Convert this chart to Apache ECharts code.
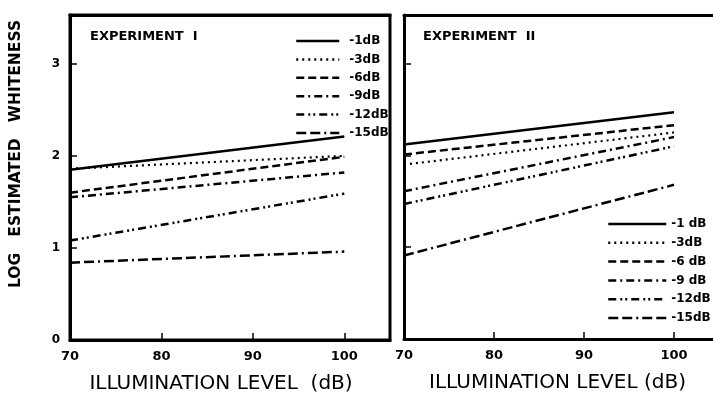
<!DOCTYPE html>
<html>
<head>
<meta charset="utf-8">
<script src="https://cdn.jsdelivr.net/npm/echarts@6/dist/echarts.min.js"></script>
<style>html,body{margin:0;padding:0;background:#fff;}#c{width:713px;height:403px;}</style>
</head>
<body>
<div id="c"></div>
<script>
// ---- data ----
const xLevels = [70, 100];
const xTicks = [70, 80, 90, 100];
const yTicks = [0, 1, 2, 3];
const names1 = ['-1dB', '-3dB', '-6dB', '-9dB', '-12dB', '-15dB'];
const names2 = ['-1 dB', '-3dB', '-6 dB', '-9 dB', '-12dB', '-15dB'];
// Experiment I (log estimated whiteness at 70 dB and 100 dB)
const exp1_1dB = [1.85, 2.21];
const exp1_3dB = [1.86, 2.00];
const exp1_6dB = [1.60, 1.99];
const exp1_9dB = [1.55, 1.82];
const exp1_12dB = [1.08, 1.59];
const exp1_15dB = [0.84, 0.96];
// Experiment II
const exp2_1dB = [2.12, 2.47];
const exp2_3dB = [1.90, 2.25];
const exp2_6dB = [2.01, 2.33];
const exp2_9dB = [1.61, 2.20];
const exp2_12dB = [1.47, 2.10];
const exp2_15dB = [0.91, 1.68];

const exp1 = [exp1_1dB, exp1_3dB, exp1_6dB, exp1_9dB, exp1_12dB, exp1_15dB];
const exp2 = [exp2_1dB, exp2_3dB, exp2_6dB, exp2_9dB, exp2_12dB, exp2_15dB];

// ---- styles ----
const lineStyles = [
  { type: 'solid', width: 2.6 },
  { type: [2, 4], width: 2.2 },
  { type: [8, 4], width: 2.5 },
  { type: [8, 4, 2, 4], width: 2.5 },
  { type: [8, 4, 2, 3, 2, 4], width: 2.5 },
  { type: [10, 4, 10, 4, 2, 4], width: 2.5 }
];
const FONT = 'DejaVu Sans';

function makeSeries(names, vals, idx) {
  return names.map((n, i) => ({
    name: n,
    type: 'line',
    xAxisIndex: idx * 2,
    yAxisIndex: idx,
    symbol: 'none',
    silent: true,
    animation: false,
    data: xLevels.map((x, j) => [x, vals[i][j]]),
    lineStyle: Object.assign({ color: '#000', cap: 'butt' }, lineStyles[i]),
    itemStyle: { color: '#000' }
  }));
}

function xAxisFor(idx, max, nameText, pad) {
  return {
    type: 'value', gridIndex: idx, min: 70, max: max, interval: 10,
    splitLine: { show: false },
    axisLine: { show: true, lineStyle: { color: '#000', width: 3 } },
    axisTick: { show: true, inside: true, length: 7, customValues: xTicks, lineStyle: { color: '#000', width: 1.5 } },
    axisLabel: { customValues: xTicks, color: '#000', fontFamily: FONT, fontWeight: 'bold', fontSize: 13, margin: 10 },
    name: nameText,
    nameLocation: 'middle',
    nameGap: 34,
    nameTextStyle: { color: '#000', fontFamily: FONT, fontSize: 20, padding: pad }
  };
}
function topAxisFor(idx, max) {
  return {
    type: 'value', gridIndex: idx, position: 'top', min: 70, max: max,
    splitLine: { show: false },
    axisLine: { show: true, lineStyle: { color: '#000', width: 3 } },
    axisTick: { show: false }, axisLabel: { show: false }
  };
}
function yAxisFor(idx) {
  return {
    type: 'value', gridIndex: idx, min: 0, max: 3.53, interval: 1,
    splitLine: { show: false },
    axisLine: { show: true, lineStyle: { color: '#000', width: 3 } },
    axisTick: { show: true, inside: true, length: 7, customValues: yTicks, lineStyle: { color: '#000', width: 1.5 } },
    axisLabel: { show: idx === 0, customValues: yTicks, color: '#000', fontFamily: FONT, fontWeight: 'bold', fontSize: 12, margin: 10 }
  };
}

function legendFor(names, left, top, w, gap, pad) {
  return {
    data: names, orient: 'vertical', left: left, top: top,
    itemWidth: w, itemHeight: 14, itemGap: gap, selectedMode: false,
    itemStyle: { opacity: 0 },
    lineStyle: { width: 2.5 },
    textStyle: { color: '#000', fontFamily: FONT, fontWeight: 'bold', fontSize: 12, padding: [0, 0, 0, pad] }
  };
}

const chart = echarts.init(document.getElementById('c'), null, { renderer: 'canvas' });
chart.setOption({
  backgroundColor: '#fff',
  animation: false,
  grid: [
    { left: 70, top: 15, width: 320, height: 325, show: true, borderColor: '#000', borderWidth: 3 },
    { left: 404, top: 15, right: 0, height: 324, show: false }
  ],
  xAxis: [
    xAxisFor(0, 105, 'ILLUMINATION LEVEL  (dB)', [0, 18, 0, 0]),
    topAxisFor(0, 105),
    xAxisFor(1, 104.33, 'ILLUMINATION LEVEL (dB)', [0, 2, 0, 0]),
    topAxisFor(1, 104.33)
  ],
  yAxis: [yAxisFor(0), yAxisFor(1)],
  legend: [
    legendFor(names1, 290, 30, 43, 6.4, 5),
    legendFor(names2, 602, 213, 58, 6.8, 0)
  ],
  graphic: [
    { type: 'text', left: 90, top: 30, style: { text: 'EXPERIMENT  I', fill: '#000', font: 'bold 13px "DejaVu Sans"' } },
    { type: 'text', left: 423, top: 30, style: { text: 'EXPERIMENT  II', fill: '#000', font: 'bold 13px "DejaVu Sans"' } },
    { type: 'text', x: 16, y: 154, rotation: Math.PI / 2,
      style: { text: 'LOG   ESTIMATED   WHITENESS', fill: '#000', font: 'bold 15.5px "DejaVu Sans"', align: 'center', verticalAlign: 'middle' } }
  ],
  series: makeSeries(names1, exp1, 0).concat(makeSeries(names2, exp2, 1))
});
</script>
</body>
</html>
